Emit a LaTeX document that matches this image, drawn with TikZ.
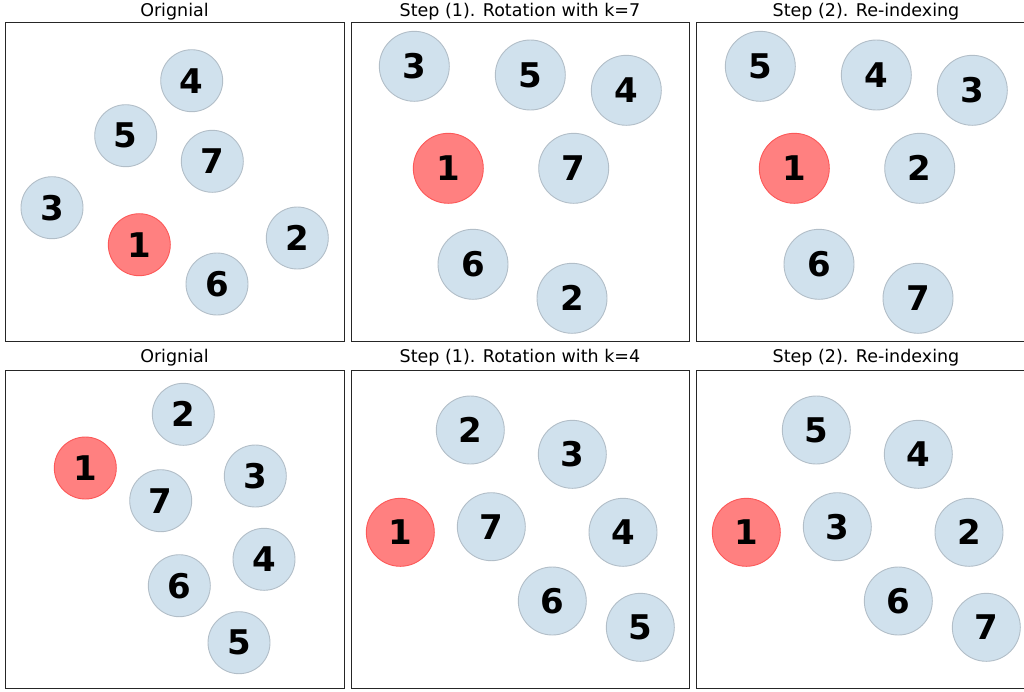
\documentclass[tikz,border=0pt]{standalone}
\usepackage{fontspec}
\setmainfont{DejaVu Sans}
\definecolor{ballblue}{RGB}{208,225,237}
\definecolor{balledge}{RGB}{178,190,200}
\definecolor{ballred}{RGB}{255,128,128}
\definecolor{rededge}{RGB}{252,88,88}
\newcommand{\var}{
\def\ytop{22.7}   % top row of panels
\def\ybot{341.5}
\def\ytopb{370}   % bottom row of panels
\def\ybotb{688.5}
}
\newcommand{\Dsmall}{62pt}
\newcommand{\Dbig}{70pt}
\newcommand{\Dmid}{68pt}
\tikzset{
  ball/.style={circle,draw=balledge,fill=ballblue,line width=0.9pt,inner sep=0pt,
    font=\fontsize{34}{34}\selectfont\bfseries},
  seed/.style={ball,draw=rededge,fill=ballred},
  panel/.style={draw=black!85,line width=1pt},
  title/.style={anchor=base,font=\fontsize{17.5}{18}\selectfont}
}

\begin{document}
\begin{tikzpicture}[x=1pt,y=-1pt]
  \var
  \clip (0,0) rectangle (1024,691);
  % panels
  \draw[panel] (5,\ytop) rectangle (344,\ybot);
  \draw[panel] (351,\ytop) rectangle (689.5,\ybot);
  \draw[panel] (696.5,\ytop) rectangle (1035,\ybot);
  \draw[panel] (5,\ytopb) rectangle (344,\ybotb);
  \draw[panel] (351,\ytopb) rectangle (689.5,\ybotb);
  \draw[panel] (696.5,\ytopb) rectangle (1035,\ybotb);
  % titles
  \node[title] (ta) at (174.5,16) {Orignial};
  \node[title] (tb) at (520,16) {Step (1). Rotation with k=7};
  \node[title] (tc) at (866,16) {Step (2). Re-indexing};
  \node[title] (ba) at (174.5,362) {Orignial};
  \node[title] (bb) at (520,362) {Step (1). Rotation with k=4};
  \node[title] (bc) at (866,362) {Step (2). Re-indexing};
  % top row, original
  \foreach \n/\x/\y in {4/191.7/80.7, 5/125.7/135.7, 7/212.3/161.3, 3/52/207.7,
                        2/297.3/238, 6/217/284}
    \node[ball,minimum size=\Dsmall] (ta\n) at (\x,\y) {\n};
  \node[seed,minimum size=\Dsmall] (ta1) at (139.3,244.7) {1};
  % top row, rotated
  \foreach \n/\x/\y in {3/414.3/66.3, 5/530.3/75, 4/626.3/90.3, 7/573.7/168.3,
                        6/473/264.3, 2/572/298.3}
    \node[ball,minimum size=\Dbig] (tb\n) at (\x,\y) {\n};
  \node[seed,minimum size=\Dbig] (tb1) at (448.3,168.3) {1};
  % top row, re-indexed
  \foreach \n/\x/\y in {5/760.3/66.3, 4/876.3/75, 3/972.3/90.3, 2/919.7/168.3,
                        6/819/264.3, 7/918/298.3}
    \node[ball,minimum size=\Dbig] (tc\n) at (\x,\y) {\n};
  \node[seed,minimum size=\Dbig] (tc1) at (794.3,168.3) {1};
  % bottom row, original
  \foreach \n/\x/\y in {2/183.3/414.3, 3/255.3/476, 7/160.7/500.7, 4/264/559.3,
                        6/179.3/585.7, 5/239/642.7}
    \node[ball,minimum size=\Dsmall] (ba\n) at (\x,\y) {\n};
  \node[seed,minimum size=\Dsmall] (ba1) at (85.3,468) {1};
  % bottom row, rotated
  \foreach \n/\x/\y in {2/470.3/430, 3/572.3/454.3, 7/491.3/526.7, 4/623/532.3,
                        6/552.3/601, 5/640.3/627.3}
    \node[ball,minimum size=\Dmid] (bb\n) at (\x,\y) {\n};
  \node[seed,minimum size=\Dmid] (bb1) at (400.3,532.3) {1};
  % bottom row, re-indexed
  \foreach \n/\x/\y in {5/816.3/430, 4/918.3/454.3, 3/837.3/526.7, 2/969/532.3,
                        6/898.3/601, 7/986.3/627.3}
    \node[ball,minimum size=\Dmid] (bc\n) at (\x,\y) {\n};
  \node[seed,minimum size=\Dmid] (bc1) at (746.3,532.3) {1};
\end{tikzpicture}
\end{document}
